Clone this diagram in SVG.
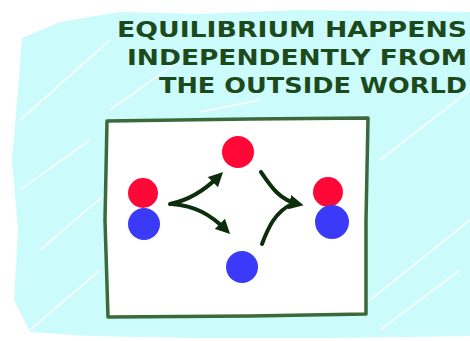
<svg xmlns="http://www.w3.org/2000/svg" width="470" height="341" viewBox="0 0 470 341">
<defs>
<style>
.t{font-family:"DejaVu Sans","Liberation Sans",sans-serif;font-weight:bold;font-size:22px;fill:#1c4a1c;}
.red{fill:#ff0838;}
.blue{fill:#3a3af8;}
.arr{fill:none;stroke:#0c2e0c;stroke-width:4;stroke-linecap:round;}
.stripe{stroke:#ffffff;stroke-width:2;opacity:0.8;}
</style>
<marker id="ah" viewBox="0 0 10 10" refX="6" refY="5" markerWidth="3.6" markerHeight="3.6" orient="auto">
<path d="M0,0 L10,5 L0,10 Z" fill="#0c2e0c"/>
</marker>
</defs>
<rect width="470" height="341" fill="#ffffff"/>
<path d="M22,38 L60,22 L120,12 L200,14 L300,10 L470,12 L470,336 L330,338 L200,338 L90,336 L30,332 L14,300 L18,230 L12,160 L18,90 Z" fill="#cbfbfb"/>
<g class="stripe">
<line x1="20" y1="120" x2="110" y2="40"/>
<line x1="40" y1="250" x2="180" y2="130"/>
<line x1="380" y1="160" x2="470" y2="90"/>
<line x1="370" y1="300" x2="470" y2="220"/>
<line x1="30" y1="330" x2="100" y2="270"/>
<line x1="380" y1="330" x2="460" y2="270"/>
<line x1="110" y1="110" x2="180" y2="60"/>
<line x1="200" y1="112" x2="260" y2="100"/>
<line x1="20" y1="190" x2="90" y2="140"/>
</g>
<g id="title">
<text class="t" x="467" y="37" text-anchor="end" textLength="350" lengthAdjust="spacingAndGlyphs">EQUILIBRIUM HAPPENS</text>
<text class="t" x="467" y="65" text-anchor="end" textLength="340" lengthAdjust="spacingAndGlyphs">INDEPENDENTLY FROM</text>
<text class="t" x="467" y="93" text-anchor="end" textLength="308" lengthAdjust="spacingAndGlyphs">THE OUTSIDE WORLD</text>
</g>
<g id="box">
<path d="M107,121 L250,119 L368,118 L366,220 L366,314 L250,316 L108,317 L105,220 Z" fill="#ffffff" stroke="#3a6a3a" stroke-width="3.5" stroke-linejoin="round"/>
</g>
<g id="left-pair">
<circle class="red" cx="143" cy="193" r="15"/>
<circle class="blue" cx="144" cy="224" r="16"/>
</g>
<g id="top-red">
<circle class="red" cx="238" cy="152" r="16"/>
</g>
<g id="bottom-blue">
<circle class="blue" cx="242" cy="267" r="16"/>
</g>
<g id="right-pair">
<circle class="red" cx="328" cy="192" r="15"/>
<circle class="blue" cx="332" cy="222" r="17"/>
</g>
<g id="connectors">
<path class="arr" d="M170,204 C190,200 205,190 219,176" stroke-width="6" marker-end="url(#ah)"/>
<path class="arr" d="M172,204 C195,206 210,214 226,230" stroke-width="4.5" marker-end="url(#ah)"/>
<path class="arr" d="M261,172 C272,188 280,200 298,204" marker-end="url(#ah)"/>
<path class="arr" d="M262,244 C268,228 275,212 292,204"/>
</g>
</svg>
